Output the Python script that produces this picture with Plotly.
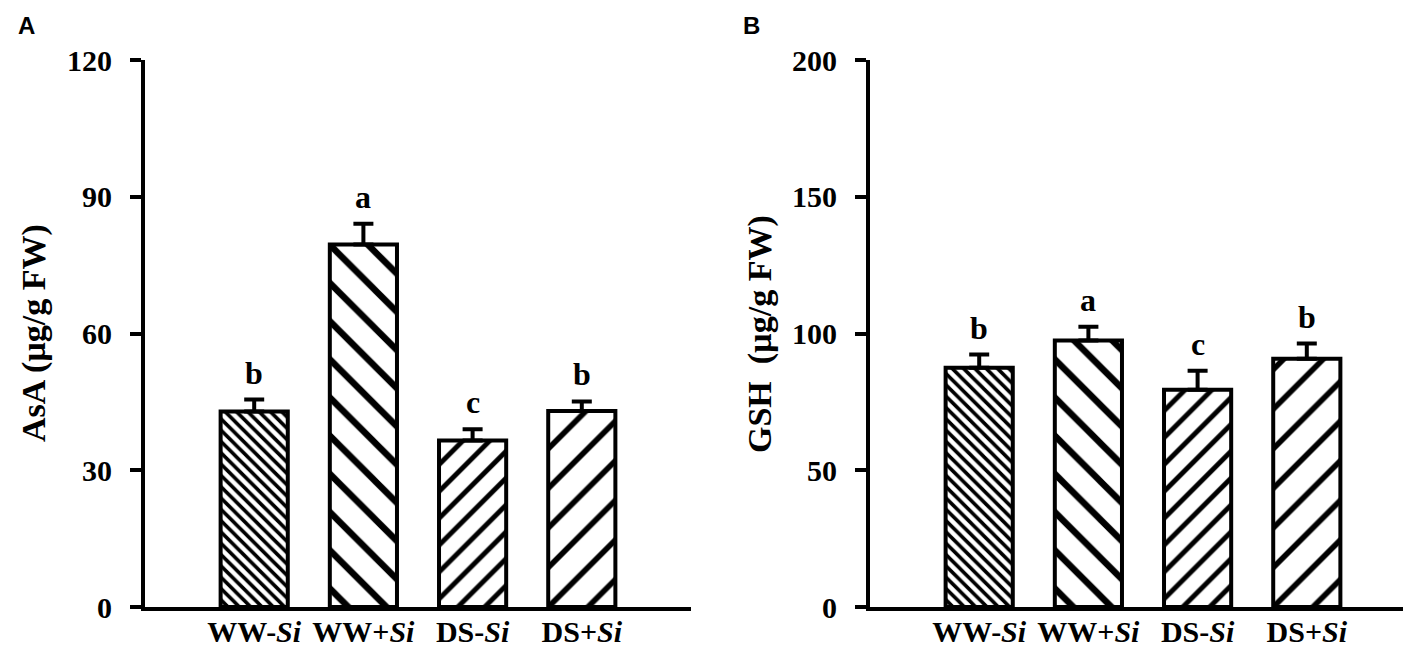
import plotly.graph_objects as go

categories = ["WW-<i>Si</i>", "WW+<i>Si</i>", "DS-<i>Si</i>", "DS+<i>Si</i>"]
asa_mean = [42.9, 79.5, 36.5, 43.0]
asa_sd = [2.6, 4.6, 2.5, 2.1]
asa_letters = ["b", "a", "c", "b"]
gsh_mean = [87.5, 97.4, 79.4, 90.8]
gsh_sd = [4.8, 5.1, 7.0, 5.5]
gsh_letters = ["b", "a", "c", "b"]
asa_ticks = [0, 30, 60, 90, 120]
gsh_ticks = [0, 50, 100, 150, 200]

pat_shapes = ["\\", "\\", "/", "/"]
pat_sizes = [8, 27, 19, 28]
pat_solid = [0.45, 0.24, 0.26, 0.2]

SERIF = "Liberation Serif"
W, H = 1411, 647
T = 52
PB = 599
B = H - PB
ph = PB - T

def px(xs):
    return min(1.0, xs / W)

def py(ys):
    return (PB - ys) / ph

fig = go.Figure()

def add_panel(means, sds, xa, ya):
    fig.add_trace(go.Bar(
        x=list(range(len(categories))), y=means,
        width=0.615,
        marker=dict(
            color="white",
            line=dict(color="black", width=4),
            pattern=dict(shape=pat_shapes, size=pat_sizes, solidity=pat_solid,
                         fgcolor="black", bgcolor="white", fgopacity=1,
                         fillmode="replace"),
        ),
        error_y=dict(type="data", array=sds, arrayminus=[0] * len(sds),
                     symmetric=False, color="black", thickness=4, width=10),
        xaxis=xa, yaxis=ya, showlegend=False,
    ))

add_panel(asa_mean, asa_sd, "x", "y")
add_panel(gsh_mean, gsh_sd, "x2", "y2")

tickfont = dict(family=SERIF, size=30, color="black", weight="bold")
ytickfont = dict(family=SERIF, size=30, color="black", weight="bold")
xcommon = dict(range=[-1, 4], tickmode="array", tickvals=list(range(len(categories))),
               ticktext=categories, showline=True, linecolor="black", linewidth=4,
               ticks="", showgrid=False, zeroline=False, tickfont=tickfont,
               ticklabelstandoff=-5)
ycommon = dict(showline=True, linecolor="black", linewidth=4, ticks="outside",
               ticklen=11, tickwidth=4, tickcolor="black", showgrid=False,
               zeroline=False, tickfont=ytickfont, ticklabelstandoff=12)

fig.update_layout(
    width=W, height=H,
    margin=dict(l=0, r=0, t=T, b=B),
    plot_bgcolor="white", paper_bgcolor="white",
    xaxis=dict(domain=[px(137), px(683)], anchor="y", **xcommon),
    xaxis2=dict(domain=[px(862), px(1408)], anchor="y2", **xcommon),
    yaxis=dict(domain=[0, 1], anchor="x", range=[0, 120], tickvals=asa_ticks, **ycommon),
    yaxis2=dict(domain=[0, 1], anchor="x2", range=[0, 200], tickvals=gsh_ticks, **ycommon),
)

annotations = []
for means, sds, letters, xr, yr in [(asa_mean, asa_sd, asa_letters, "x", "y"),
                                    (gsh_mean, gsh_sd, gsh_letters, "x2", "y2")]:
    for i, (m, s, l) in enumerate(zip(means, sds, letters)):
        annotations.append(dict(x=i, y=m + s, xref=xr, yref=yr, text=l, showarrow=False,
                                yanchor="bottom", yshift=7,
                                font=dict(family=SERIF, size=32, color="black", weight="bold")))

titlefont = dict(family=SERIF, size=34, color="black", weight="bold")
annotations.append(dict(x=px(26), y=py(325), xref="paper", yref="paper",
                        text="AsA (µg/g FW)", textangle=-90, showarrow=False,
                        xanchor="center", yanchor="middle", font=titlefont))
annotations.append(dict(x=px(752), y=py(326), xref="paper", yref="paper",
                        text="GSH  (µg/g FW)", textangle=-90, showarrow=False,
                        xanchor="center", yanchor="middle", font=titlefont))

panelfont = dict(family="Liberation Sans", size=24, color="black", weight="bold")
annotations.append(dict(x=px(8), y=py(17), xref="paper", yref="paper",
                        text="A", showarrow=False, xanchor="left", yanchor="middle", font=panelfont))
annotations.append(dict(x=px(733), y=py(17), xref="paper", yref="paper",
                        text="B", showarrow=False, xanchor="left", yanchor="middle", font=panelfont))

fig.update_layout(annotations=annotations)
fig.write_html("out.html")
